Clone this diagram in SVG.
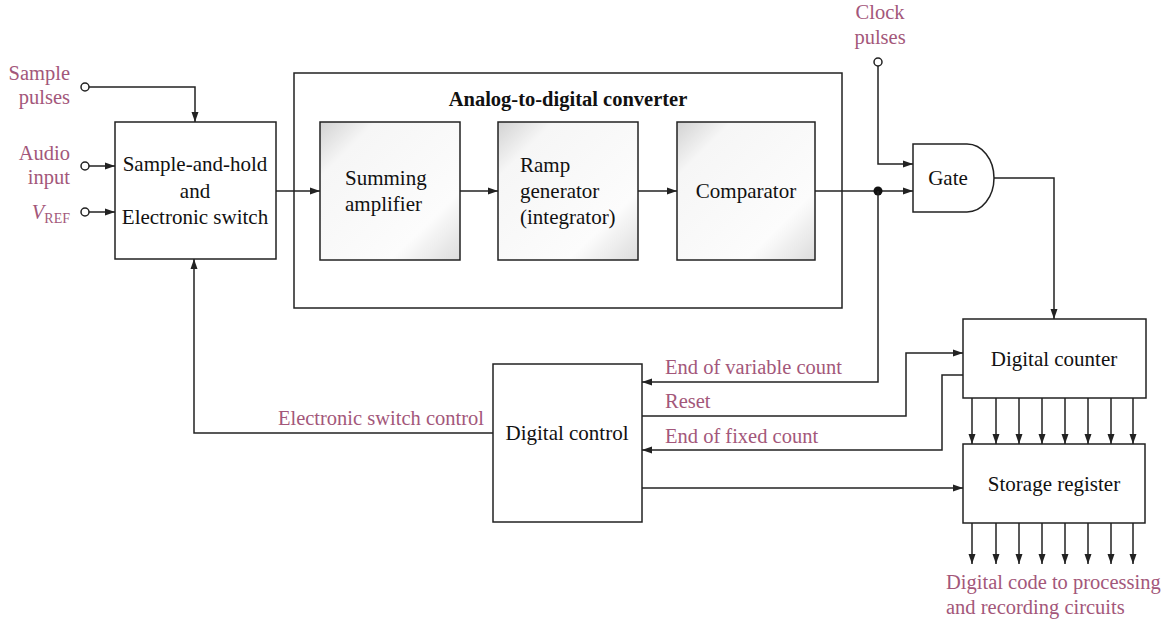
<svg xmlns="http://www.w3.org/2000/svg" width="1175" height="628" viewBox="0 0 1175 628" font-family="Liberation Serif, DejaVu Serif, Times New Roman, serif">
<style>
.box{fill:#fff;stroke:#222;stroke-width:1.5}
.sh{fill:url(#shade);stroke:#222;stroke-width:1.5}
.ln{fill:none;stroke:#222;stroke-width:1.5}
.t{font-size:21px;fill:#111}
.lb{font-size:20.5px;fill:#a3577a}
.ti{font-size:20.5px;font-weight:bold;fill:#111}
</style>
<defs>
<marker id="ar" viewBox="0 0 10 10" refX="10" refY="5" markerWidth="10" markerHeight="10" markerUnits="userSpaceOnUse" orient="auto"><path d="M0,1.5 L10,5 L0,8.5 Z" fill="#222"/></marker>
<linearGradient id="shade" x1="0" y1="0" x2="1" y2="1">
<stop offset="0" stop-color="#d2d2d2"/>
<stop offset="0.2" stop-color="#f6f6f6"/>
<stop offset="0.75" stop-color="#fcfcfc"/>
<stop offset="1" stop-color="#dcdcdc"/>
</linearGradient>
</defs>
<rect width="1175" height="628" fill="#fff"/>

<g id="inputs">
<text class="lb" x="70" y="80" text-anchor="end">Sample</text>
<text class="lb" x="70" y="104" text-anchor="end">pulses</text>
<text class="lb" x="70" y="160" text-anchor="end">Audio</text>
<text class="lb" x="70" y="184" text-anchor="end">input</text>
<text class="lb" x="70" y="219" text-anchor="end"><tspan font-style="italic">V</tspan><tspan font-size="14" dy="4">REF</tspan></text>
<circle cx="85" cy="87" r="4" class="ln" fill="#fff"/>
<circle cx="85" cy="166" r="4" class="ln" fill="#fff"/>
<circle cx="85" cy="212" r="4" class="ln" fill="#fff"/>
</g>

<g id="sample-hold">
<rect class="box" x="115" y="122" width="161" height="137"/>
<text class="t" x="195" y="171" text-anchor="middle">Sample-and-hold</text>
<text class="t" x="195" y="198" text-anchor="middle">and</text>
<text class="t" x="195" y="224" text-anchor="middle">Electronic switch</text>
</g>

<g id="adc">
<rect class="box" x="294" y="73" width="548" height="235" fill="none"/>
<text class="ti" x="568" y="106" text-anchor="middle">Analog-to-digital converter</text>
</g>

<g id="summing">
<rect class="sh" x="320" y="122" width="140" height="138"/>
<text class="t" x="345" y="185">Summing</text>
<text class="t" x="345" y="211">amplifier</text>
</g>

<g id="ramp">
<rect class="sh" x="498" y="122" width="140" height="138"/>
<text class="t" x="520" y="172">Ramp</text>
<text class="t" x="520" y="198">generator</text>
<text class="t" x="520" y="224">(integrator)</text>
</g>

<g id="comparator">
<rect class="sh" x="677" y="122" width="138" height="138"/>
<text class="t" x="746" y="198" text-anchor="middle">Comparator</text>
</g>

<g id="clock">
<text class="lb" x="880" y="19" text-anchor="middle">Clock</text>
<text class="lb" x="880" y="44" text-anchor="middle">pulses</text>
<circle cx="878" cy="62" r="4" class="ln" fill="#fff"/>
</g>

<g id="gate">
<path class="box" d="M913,144 L967,144 A27,34 0 0 1 967,212 L913,212 Z"/>
<text class="t" x="948" y="185" text-anchor="middle">Gate</text>
</g>

<g id="digital-counter">
<rect class="box" x="963" y="319" width="183" height="79"/>
<text class="t" x="1054" y="366" text-anchor="middle">Digital counter</text>
</g>

<g id="storage-register">
<rect class="box" x="963" y="444" width="182" height="79"/>
<text class="t" x="1054" y="491" text-anchor="middle">Storage register</text>
</g>

<g id="digital-control">
<rect class="box" x="493" y="364" width="149" height="158"/>
<text class="t" x="567" y="440" text-anchor="middle">Digital control</text>
</g>

<g id="connectors">
<path class="ln" d="M89,87 H195 V122" marker-end="url(#ar)"/>
<path class="ln" d="M89,166 H115" marker-end="url(#ar)"/>
<path class="ln" d="M89,212 H115" marker-end="url(#ar)"/>
<path class="ln" d="M276,191 H320" marker-end="url(#ar)"/>
<path class="ln" d="M460,191 H498" marker-end="url(#ar)"/>
<path class="ln" d="M638,191 H677" marker-end="url(#ar)"/>
<path class="ln" d="M815,191 H913" marker-end="url(#ar)"/>
<circle cx="878" cy="191" r="4.5" fill="#111"/>
<path class="ln" d="M878,66 V164 H913" marker-end="url(#ar)"/>
<path class="ln" d="M994,178 H1054 V319" marker-end="url(#ar)"/>
<path class="ln" d="M878,191 V382 H642" marker-end="url(#ar)"/>
<path class="ln" d="M642,416 H906 V353 H963" marker-end="url(#ar)"/>
<path class="ln" d="M963,375 H942 V450 H642" marker-end="url(#ar)"/>
<path class="ln" d="M493,433 H194 V259" marker-end="url(#ar)"/>
<path class="ln" d="M642,488 H963" marker-end="url(#ar)"/>
<g>
<path class="ln" d="M972,398 V444" marker-end="url(#ar)"/>
<path class="ln" d="M996,398 V444" marker-end="url(#ar)"/>
<path class="ln" d="M1019,398 V444" marker-end="url(#ar)"/>
<path class="ln" d="M1042,398 V444" marker-end="url(#ar)"/>
<path class="ln" d="M1065,398 V444" marker-end="url(#ar)"/>
<path class="ln" d="M1088,398 V444" marker-end="url(#ar)"/>
<path class="ln" d="M1111,398 V444" marker-end="url(#ar)"/>
<path class="ln" d="M1133,398 V444" marker-end="url(#ar)"/>
<path class="ln" d="M972,523 V564" marker-end="url(#ar)"/>
<path class="ln" d="M996,523 V564" marker-end="url(#ar)"/>
<path class="ln" d="M1019,523 V564" marker-end="url(#ar)"/>
<path class="ln" d="M1042,523 V564" marker-end="url(#ar)"/>
<path class="ln" d="M1065,523 V564" marker-end="url(#ar)"/>
<path class="ln" d="M1088,523 V564" marker-end="url(#ar)"/>
<path class="ln" d="M1111,523 V564" marker-end="url(#ar)"/>
<path class="ln" d="M1133,523 V564" marker-end="url(#ar)"/>
</g>
<text class="lb" x="665" y="374">End of variable count</text>
<text class="lb" x="665" y="408">Reset</text>
<text class="lb" x="665" y="443">End of fixed count</text>
<text class="lb" x="484" y="425" text-anchor="end">Electronic switch control</text>
<text class="lb" x="946" y="589">Digital code to processing</text>
<text class="lb" x="946" y="614">and recording circuits</text>
</g>
</svg>
